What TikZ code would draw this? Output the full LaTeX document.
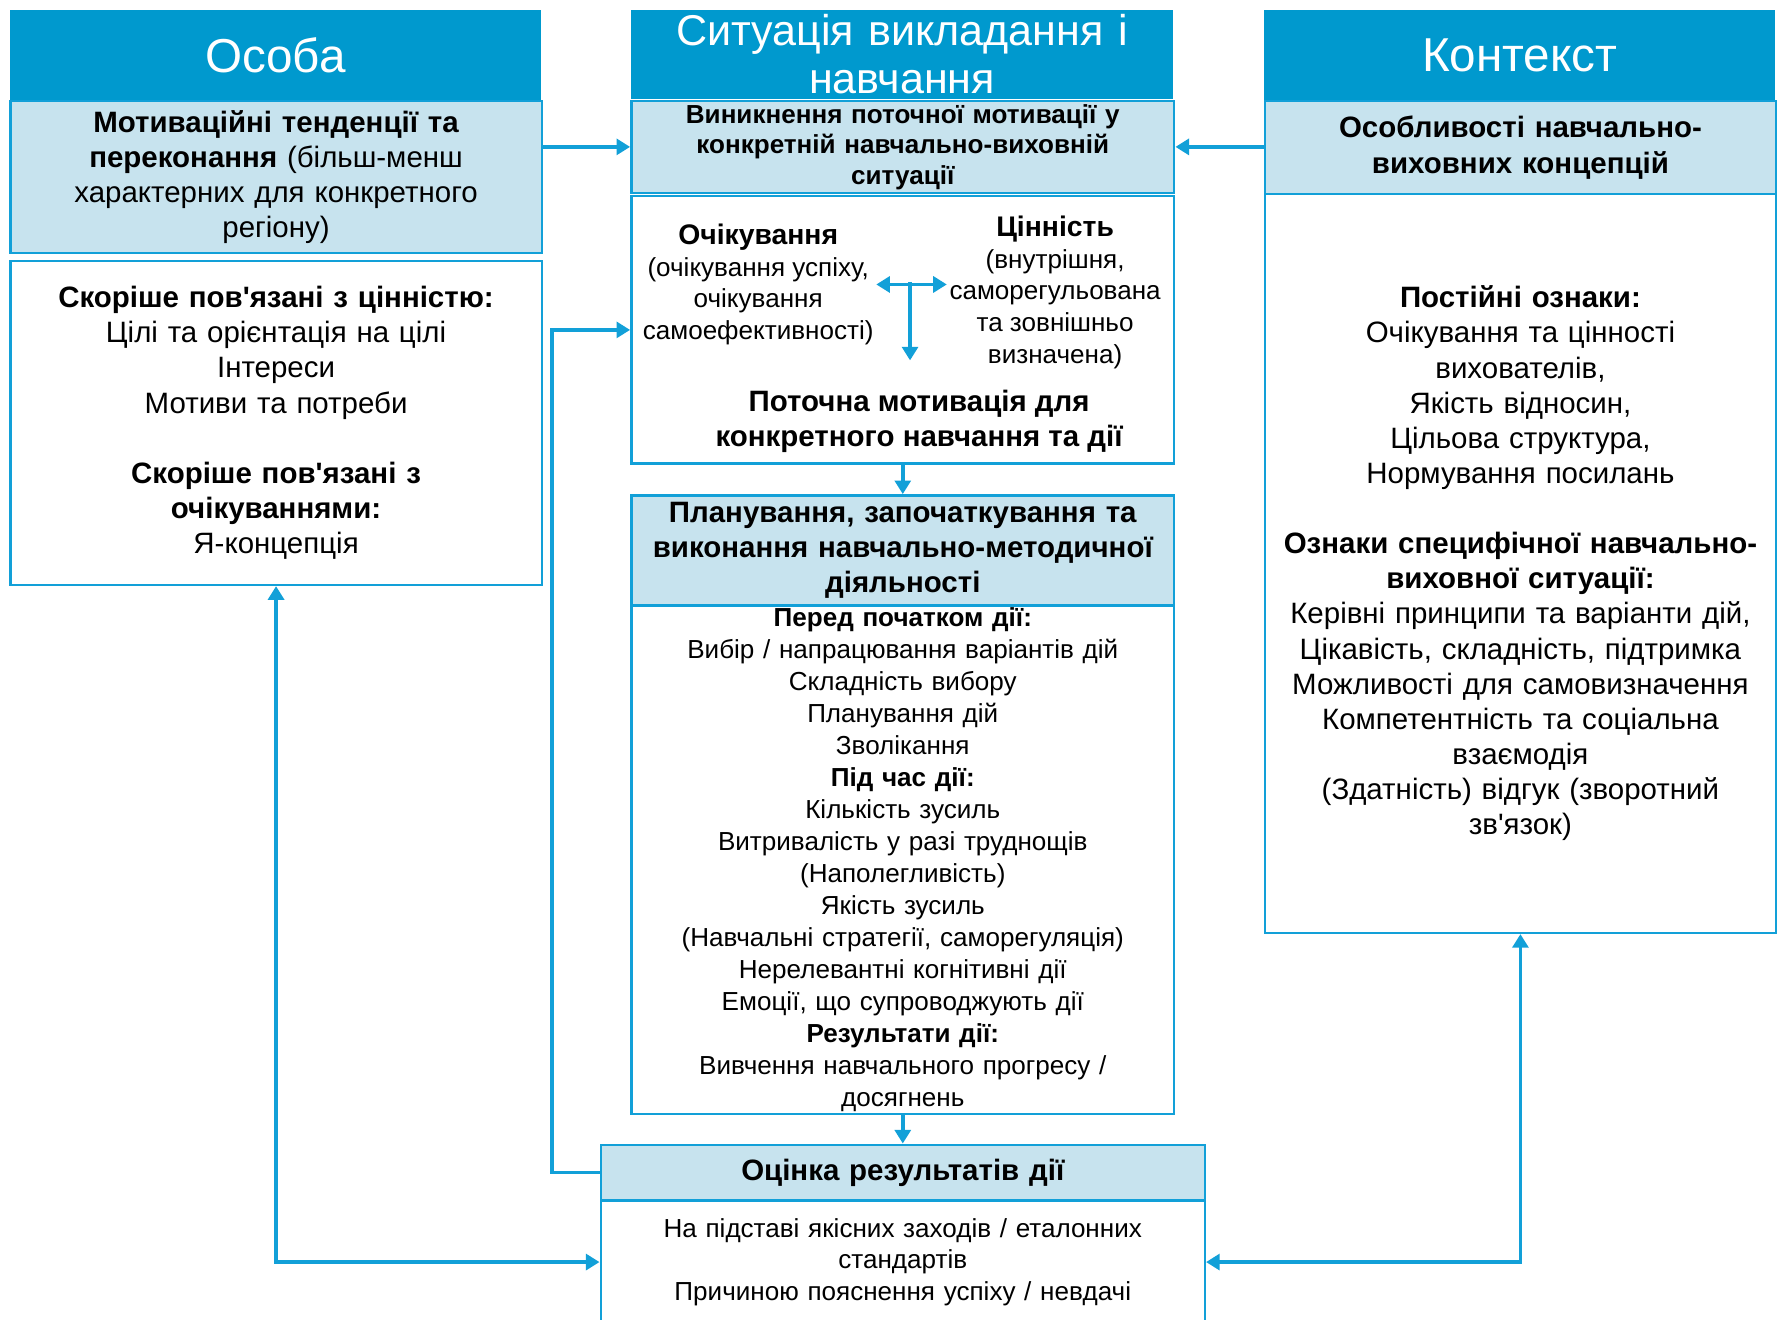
\documentclass[tikz,border=0pt]{standalone}
\usepackage{fontspec}
\setmainfont{Liberation Sans}
\usetikzlibrary{arrows.meta}
\definecolor{headblue}{RGB}{0,153,206}
\definecolor{paleblue}{RGB}{199,227,238}
\definecolor{lineblue}{RGB}{18,160,216}
\newcommand{\apos}{\textquotesingle}

\begin{document}
\begin{tikzpicture}[x=0.5pt,y=-0.5pt,>={Triangle[length=6pt,width=7pt]},
  head/.style={fill=headblue,text=white,inner sep=0pt,align=center,anchor=north west,font=\fontsize{21}{23}\selectfont},
  band/.style={fill=paleblue,draw=lineblue,line width=1.1pt,inner sep=0pt,align=center,anchor=north west},
  panel/.style={fill=white,draw=lineblue,line width=1.1pt,inner sep=0pt,align=center,anchor=north west},
  link/.style={lineblue,line width=1.6pt}]
\useasboundingbox (0,0) rectangle (1568,1164);

% left column
\node[head,text width=234.5pt,minimum height=40pt] (personhead) at (8,8) {Особа};
\node[band,text width=234.5pt,minimum height=67pt,font=\fontsize{13}{15.5}\selectfont] (personband) at (8,88)
  {\textbf{Мотиваційні тенденції та}\\\textbf{переконання} (більш-менш\\характерних для конкретного\\регіону)};
\node[panel,text width=234.5pt,minimum height=143pt,font=\fontsize{13}{15.5}\selectfont] (personpanel) at (8,229)
  {\textbf{Скоріше пов\apos язані з цінністю:}\\Цілі та орієнтація на цілі\\Інтереси\\Мотиви та потреби\\[15.5pt]
   \textbf{Скоріше пов\apos язані з}\\\textbf{очікуваннями:}\\Я-концепція};

% middle column
\node[head,text width=239.5pt,minimum height=39.5pt,font=\fontsize{19}{21}\selectfont] (sithead) at (556,8)
  {Ситуація викладання і\\навчання};
\node[band,text width=239.5pt,minimum height=40.5pt,font=\fontsize{11.5}{13.5}\selectfont\bfseries] (sitband) at (556,88)
  {Виникнення поточної мотивації у\\конкретній навчально-виховній\\ситуації};
\node[panel,text width=239.5pt,minimum height=118pt] (sitpanel) at (556,172) {};
\node[font=\fontsize{11.5}{14}\selectfont,align=center,inner sep=1pt] (expect) at (669,251)
  {{\fontsize{12.5}{14}\selectfont\textbf{Очікування}}\\(очікування успіху,\\очікування\\самоефективності)};
\node[font=\fontsize{11.5}{14}\selectfont,align=center,inner sep=1pt] (value) at (931,258)
  {{\fontsize{12.5}{14}\selectfont\textbf{Цінність}}\\(внутрішня,\\саморегульована\\та зовнішньо\\визначена)};
\node[font=\fontsize{13}{15.5}\selectfont\bfseries,align=center] (current) at (811,372)
  {Поточна мотивація для\\конкретного навчання та дії};
\coordinate (fork) at (803,249);
\coordinate (forkend) at (803,318);

\node[band,text width=239.5pt,minimum height=48.5pt,font=\fontsize{13}{15.5}\selectfont\bfseries] (planband) at (556,436)
  {Планування, започаткування та\\виконання навчально-методичної\\діяльності};
\node[panel,text width=239.5pt,minimum height=224.5pt,font=\fontsize{11.5}{14.1}\selectfont] (planpanel) at (556,533)
  {\textbf{Перед початком дії:}\\Вибір / напрацювання варіантів дій\\Складність вибору\\Планування дій\\Зволікання\\
   \textbf{Під час дії:}\\Кількість зусиль\\Витривалість у разі труднощів\\(Наполегливість)\\Якість зусиль\\
   (Навчальні стратегії, саморегуляція)\\Нерелевантні когнітивні дії\\Емоції, що супроводжують дії\\
   \textbf{Результати дії:}\\Вивчення навчального прогресу /\\досягнень};

\node[band,text width=266.5pt,minimum height=24.5pt,font=\fontsize{13}{15.5}\selectfont\bfseries] (evalband) at (529,1009)
  {Оцінка результатів дії};
\node[panel,text width=266.5pt,minimum height=54.5pt,font=\fontsize{11.5}{14}\selectfont] (evalpanel) at (529,1058)
  {На підставі якісних заходів / еталонних\\стандартів\\Причиною пояснення успіху / невдачі};

% right column
\node[head,text width=225.5pt,minimum height=40pt] (ctxhead) at (1115,8) {Контекст};
\node[band,text width=225.5pt,minimum height=41pt,font=\fontsize{13}{16}\selectfont\bfseries] (ctxband) at (1115,88)
  {Особливості навчально-\\виховних концепцій};
\node[panel,text width=225.5pt,minimum height=326pt,font=\fontsize{13}{15.5}\selectfont] (ctxpanel) at (1115,170)
  {\textbf{Постійні ознаки:}\\Очікування та цінності\\вихователів,\\Якість відносин,\\Цільова структура,\\Нормування посилань\\[15.5pt]
   \textbf{Ознаки специфічної навчально-}\\\textbf{виховної ситуації:}\\Керівні принципи та варіанти дій,\\
   Цікавість, складність, підтримка\\Можливості для самовизначення\\Компетентність та соціальна\\взаємодія\\
   (Здатність) відгук (зворотний\\зв\apos язок)};

% connectors
\draw[link,->] (personband.east |- sitband.west) -- (sitband.west);
\draw[link,->] (ctxband.west |- sitband.east) -- (sitband.east);
\draw[link,<->] (expect.east) -- (expect.east -| value.west);
\draw[link,->] (fork) -- (forkend);
\draw[link,->] (sitpanel.south) -- (planband.north);
\draw[link,->] (planpanel.south) -- (evalband.north);
\draw[link,->] (evalband.west) -- ++(-42,0) |- (sitpanel.west);
\draw[link,<->] (personpanel.south) |- (evalpanel.west);
\draw[link,<->] (ctxpanel.south) |- (evalpanel.east);
\end{tikzpicture}
\end{document}
